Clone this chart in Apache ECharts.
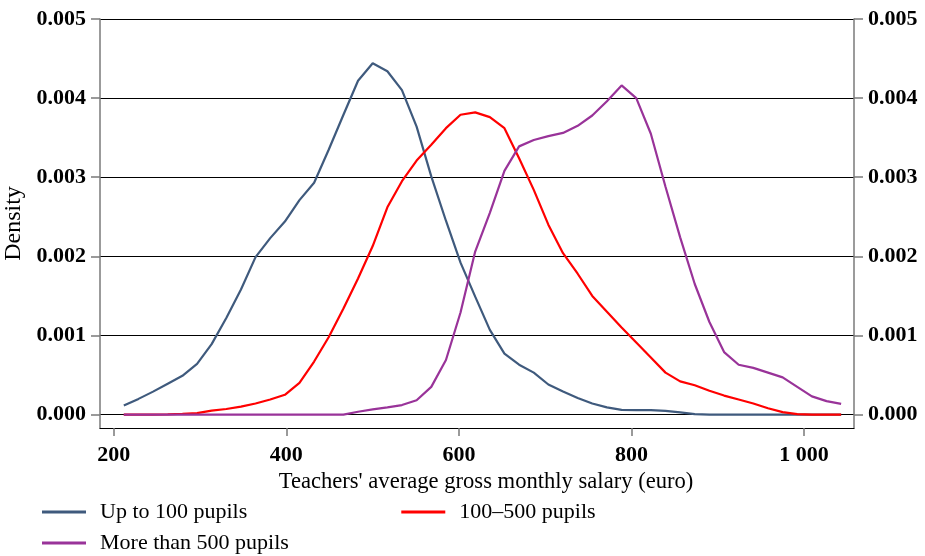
<!DOCTYPE html>
<html>
<head>
<meta charset="utf-8">
<script src="https://cdn.jsdelivr.net/npm/echarts@6/dist/echarts.min.js"></script>
<style>
  html, body { margin: 0; padding: 0; background: #ffffff; }
  #chart { width: 925px; height: 556px; }
</style>
</head>
<body>
<div id="chart"></div>
<script>
// Evaluation points of the kernel density estimates (euro)
const salary = [
  211.6, 228.6, 245.5, 262.5, 279.5, 296.5, 313.4, 330.4, 347.4, 364.3,
  381.3, 398.3, 415.2, 432.2, 449.2, 466.2, 483.1, 500.1, 517.1, 534.0,
  551.0, 568.0, 585.0, 601.9, 618.9, 635.9, 652.8, 669.8, 686.8, 703.7,
  720.7, 737.7, 754.6, 771.6, 788.6, 805.6, 822.5, 839.5, 856.5, 873.4,
  890.4, 907.4, 924.3, 941.3, 958.3, 975.3, 992.2, 1009.2, 1026.2, 1043.1
];

// Density values (x 0.001) for each school size group
const upTo100 = [
  0.114, 0.198, 0.29, 0.39, 0.49, 0.64, 0.89, 1.22, 1.58, 1.99,
  2.23, 2.44, 2.71, 2.93, 3.35, 3.79, 4.22, 4.44, 4.34, 4.10,
  3.64, 3.01, 2.45, 1.92, 1.49, 1.07, 0.77, 0.63, 0.53, 0.38,
  0.29, 0.21, 0.14, 0.09, 0.06, 0.057, 0.056, 0.047, 0.028, 0.005,
  0, 0, 0, 0, 0, 0, 0, 0, 0, 0
];
const from100to500 = [
  0, 0, 0, 0.003, 0.01, 0.018, 0.05, 0.07, 0.10, 0.14,
  0.19, 0.25, 0.40, 0.67, 0.98, 1.34, 1.72, 2.13, 2.62, 2.95,
  3.21, 3.41, 3.62, 3.79, 3.82, 3.76, 3.62, 3.24, 2.84, 2.40,
  2.04, 1.78, 1.50, 1.30, 1.10, 0.91, 0.72, 0.53, 0.42, 0.37,
  0.30, 0.24, 0.19, 0.14, 0.08, 0.03, 0.005, 0, 0, 0
];
const over500 = [
  0, 0, 0, 0, 0, 0, 0, 0, 0, 0,
  0, 0, 0, 0, 0, 0, 0.035, 0.065, 0.09, 0.12,
  0.18, 0.35, 0.69, 1.29, 2.06, 2.55, 3.08, 3.39, 3.47, 3.52,
  3.56, 3.65, 3.78, 3.96, 4.16, 4.00, 3.55, 2.88, 2.24, 1.65,
  1.17, 0.79, 0.63, 0.59, 0.53, 0.47, 0.35, 0.23, 0.17, 0.135
];

const seriesNames = ['Up to 100 pupils', '100\u2013500 pupils', 'More than 500 pupils'];
const seriesColors = ['#3f5a7d', '#ff0000', '#993399'];
const xTicks = [200, 400, 600, 800, 1000];
const yTicks = [0, 0.001, 0.002, 0.003, 0.004, 0.005];

const FONT = '"Liberation Serif", "Times New Roman", serif';
const ink = { color: '#000', fontFamily: FONT };
const tickInk = { color: '#000', fontFamily: FONT, fontWeight: 'bold' };

function pairs(values) {
  return salary.map((x, i) => [x, values[i] / 1000]);
}

function thousands(v) {
  return v >= 1000 ? Math.floor(v / 1000) + ' ' + String(v % 1000).padStart(3, '0') : String(v);
}

function yAxisDef(position, showGrid) {
  return {
    type: 'value',
    position: position,
    min: -0.00017,
    max: 0.005,
    axisLine: { show: true, lineStyle: { color: '#7a7a7a', width: 1.5 } },
    axisTick: { show: true, length: 9, customValues: yTicks, lineStyle: { color: '#7a7a7a', width: 1.5 } },
    axisLabel: Object.assign({
      customValues: yTicks,
      margin: 14,
      fontSize: 22,
      formatter: v => v.toFixed(3)
    }, tickInk),
    splitLine: { show: showGrid, lineStyle: { color: '#000', width: 1 } }
  };
}

function legendDef(names, top, gap) {
  return {
    data: names,
    left: 42,
    top: top,
    padding: 0,
    orient: 'horizontal',
    icon: 'rect',
    itemWidth: 44,
    itemHeight: 3,
    itemGap: gap,
    textStyle: Object.assign({ fontSize: 22, padding: [0, 0, 0, 9] }, ink)
  };
}

const chart = echarts.init(document.getElementById('chart'), null, { renderer: 'canvas' });

chart.setOption({
  animation: false,
  backgroundColor: '#ffffff',
  grid: { left: 100, right: 71, top: 19, bottom: 128, containLabel: false, outerBoundsMode: 'none' },
  xAxis: {
    type: 'value',
    min: 184,
    max: 1058,
    name: "Teachers' average gross monthly salary (euro)",
    nameLocation: 'middle',
    nameGap: 42,
    nameTextStyle: Object.assign({ fontSize: 22.6, padding: [0, 0, 0, 18] }, ink),
    axisLine: { show: true, onZero: false, lineStyle: { color: '#000', width: 1.2 } },
    axisTick: { show: true, length: 8, customValues: xTicks, lineStyle: { color: '#7a7a7a', width: 1.5 } },
    axisLabel: Object.assign({
      customValues: xTicks,
      margin: 16,
      fontSize: 22,
      formatter: thousands
    }, tickInk),
    splitLine: { show: false }
  },
  yAxis: [
    Object.assign(yAxisDef('left', true), {
      name: 'Density',
      nameLocation: 'middle',
      nameGap: 61,
      nameTextStyle: Object.assign({ fontSize: 24 }, ink)
    }),
    yAxisDef('right', false)
  ],
  legend: [
    legendDef([seriesNames[0], seriesNames[1]], 501, 154),
    legendDef([seriesNames[2]], 532, 10)
  ],
  series: [
    { name: seriesNames[0], data: pairs(upTo100), color: seriesColors[0] },
    { name: seriesNames[1], data: pairs(from100to500), color: seriesColors[1] },
    { name: seriesNames[2], data: pairs(over500), color: seriesColors[2] }
  ].map(s => Object.assign({
    type: 'line',
    showSymbol: false,
    symbol: 'none',
    smooth: false,
    lineStyle: { width: 2.2, color: s.color },
    itemStyle: { color: s.color }
  }, s))
});
</script>
</body>
</html>
